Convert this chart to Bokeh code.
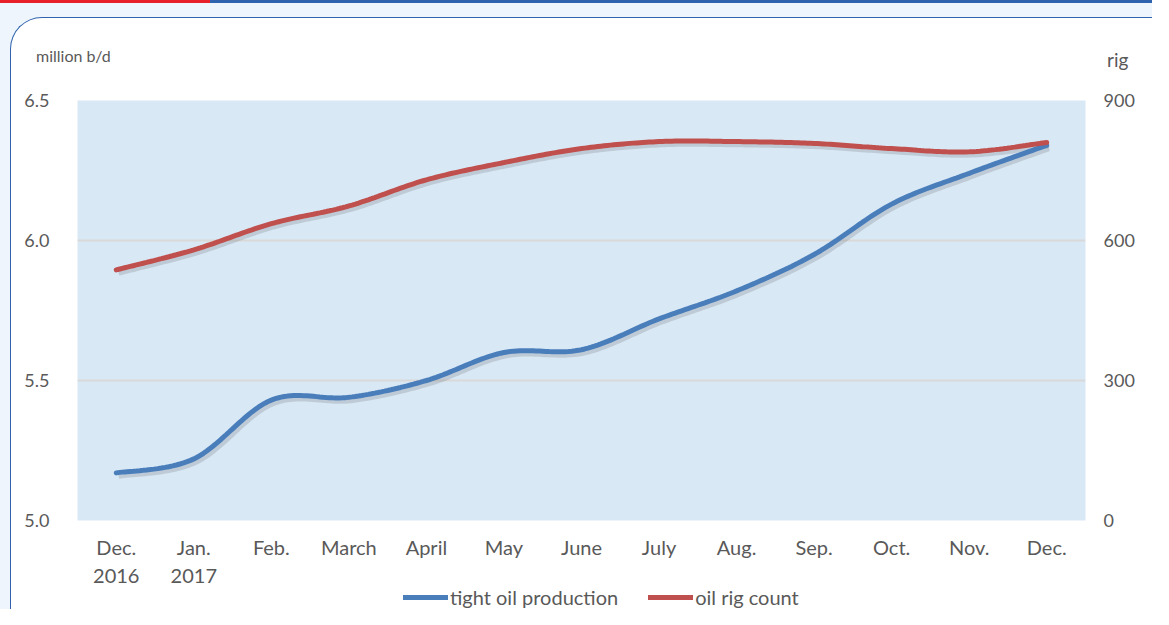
import numpy as np
from bokeh.plotting import figure
from bokeh.layouts import column
from bokeh.models import (Range1d, LinearAxis, FixedTicker, Legend, LegendItem, Div)
from bokeh.embed import file_html
from bokeh.resources import INLINE

# ---- data ----
months = ["Dec.\n2016", "Jan.\n2017", "Feb.", "March", "April", "May", "June",
          "July", "Aug.", "Sep.", "Oct.", "Nov.", "Dec."]
tight_oil = [5.17, 5.22, 5.43, 5.44, 5.50, 5.60, 5.61, 5.72, 5.82, 5.95, 6.13, 6.24, 6.34]
rig_count = [537, 580, 636, 674, 730, 767, 797, 812, 812, 808, 797, 790, 810]
left_ticks = [5.0, 5.5, 6.0, 6.5]
right_ticks = [0, 300, 600, 900]
series_names = ["tight oil production", "oil rig count"]
left_unit = "million b/d"
right_unit = "rig"

FONT = "Lato"
TXT = "#595959"
BLUE = "#4a7ebb"
RED = "#c0504d"


def smooth(ys, n=24):
    """Catmull-Rom smoothing through the data points (like Excel's smoothed line)."""
    P = np.column_stack([np.arange(len(ys), dtype=float), np.asarray(ys, float)])
    out = []
    for i in range(len(P) - 1):
        p0 = P[i - 1] if i > 0 else P[i]
        p1, p2 = P[i], P[i + 1]
        p3 = P[i + 2] if i + 2 < len(P) else P[i + 1]
        t = np.linspace(0, 1, n, endpoint=(i == len(P) - 2))[:, None]
        seg = 0.5 * ((2 * p1) + (-p0 + p2) * t + (2 * p0 - 5 * p1 + 4 * p2 - p3) * t ** 2
                     + (-p0 + 3 * p1 - 3 * p2 + p3) * t ** 3)
        out.append(seg)
    S = np.vstack(out)
    return S[:, 0], S[:, 1]


W = 1141

# header with the two unit labels
header = Div(width=W, height=60, margin=0, text=(
    f'<span style="position:absolute;left:25px;top:28px;font-family:{FONT};'
    f'font-size:16px;line-height:20px;color:{TXT};white-space:nowrap">{left_unit}</span>'
    f'<span style="position:absolute;left:1096px;top:30px;font-family:{FONT};'
    f'font-size:19px;line-height:23px;color:{TXT};white-space:nowrap">{right_unit}</span>'),
    styles={"position": "relative"})

p = figure(width=W, height=527, output_backend="svg", toolbar_location=None,
           x_range=Range1d(-0.5, len(months) - 0.5), y_range=Range1d(5.0, 6.5),
           min_border_left=66, min_border_right=67, min_border_top=22, min_border_bottom=85)
p.extra_y_ranges = {"rig": Range1d(0, 900)}

p.background_fill_color = "#d9e8f5"
p.border_fill_color = "white"
p.outline_line_color = None

# axes
p.xaxis.ticker = FixedTicker(ticks=list(range(len(months))))
p.xaxis.major_label_overrides = {i: m for i, m in enumerate(months)}
p.yaxis.ticker = FixedTicker(ticks=left_ticks)
p.yaxis.major_label_overrides = {v: f"{v:.1f}" for v in left_ticks}

ra = LinearAxis(y_range_name="rig", ticker=FixedTicker(ticks=right_ticks))
p.add_layout(ra, "right")

for ax in [p.xaxis[0], p.yaxis[0], ra]:
    ax.axis_line_color = None
    ax.major_tick_line_color = None
    ax.minor_tick_line_color = None
    ax.major_label_text_font = FONT
    ax.major_label_text_font_size = "18px"
    ax.major_label_text_color = TXT
p.xaxis.major_label_text_font_size = "20px"
p.xaxis.major_label_standoff = 8
p.yaxis.major_label_standoff = 22
ra.major_label_standoff = 12

p.xgrid.grid_line_color = None
p.ygrid.grid_line_color = "#d9d9d9"
p.ygrid.grid_line_width = 2
p.ygrid.ticker = FixedTicker(ticks=left_ticks)

# lines (with soft shadow)
bx, by = smooth(tight_oil)
rx, ry = smooth(rig_count)
p.line(bx + 0.03, by - 0.012, line_width=5, color="black", alpha=0.12)
p.line(rx + 0.03, np.array(ry) - 7, line_width=5, color="black", alpha=0.12, y_range_name="rig")
p.line(bx, by, line_width=5, color=BLUE, line_cap="round")
p.line(rx, ry, line_width=5, color=RED, line_cap="round", y_range_name="rig")

# legend strip (own small figure, overlapping the empty bottom of the chart)
lg = figure(width=W, height=23, output_backend="svg", toolbar_location=None,
            x_range=Range1d(0, 1), y_range=Range1d(0, 1), min_border=0,
            x_axis_location=None, y_axis_location=None,
            styles={"margin-top": "-19.5px"})
lg.outline_line_color = None
lg.grid.grid_line_color = None
lg.background_fill_alpha = 0
lg.border_fill_alpha = 0
kb = lg.line(x=[np.nan], y=[np.nan], line_width=5, color=BLUE, line_cap="round")
kr = lg.line(x=[np.nan], y=[np.nan], line_width=5, color=RED, line_cap="round")
legend = Legend(items=[LegendItem(label=series_names[0], renderers=[kb]),
                       LegendItem(label=series_names[1], renderers=[kr])],
                orientation="horizontal", location=(326, 0),
                label_text_font=FONT, label_text_font_size="20px",
                label_text_color=TXT, glyph_width=45, glyph_height=20, label_height=20,
                label_standoff=2, spacing=30, border_line_color=None,
                background_fill_alpha=0, padding=0, margin=0)
lg.add_layout(legend)

panel = column(header, p, lg, styles={
    "margin-left": "10px", "margin-top": "17px",
    "border-left": "1.5px solid #2f63ad", "border-top": "1.5px solid #2f63ad",
    "border-top-left-radius": "32px", "overflow": "hidden",
    "background-color": "white"})

page = column(panel, styles={
    "background": "linear-gradient(to right, #e8202a 0px, #e8202a 210px, #2f63ad 210px) "
                  "top left / 100% 3px no-repeat, #eef5fc"})
open("out.html", "w").write(file_html(page, INLINE))
